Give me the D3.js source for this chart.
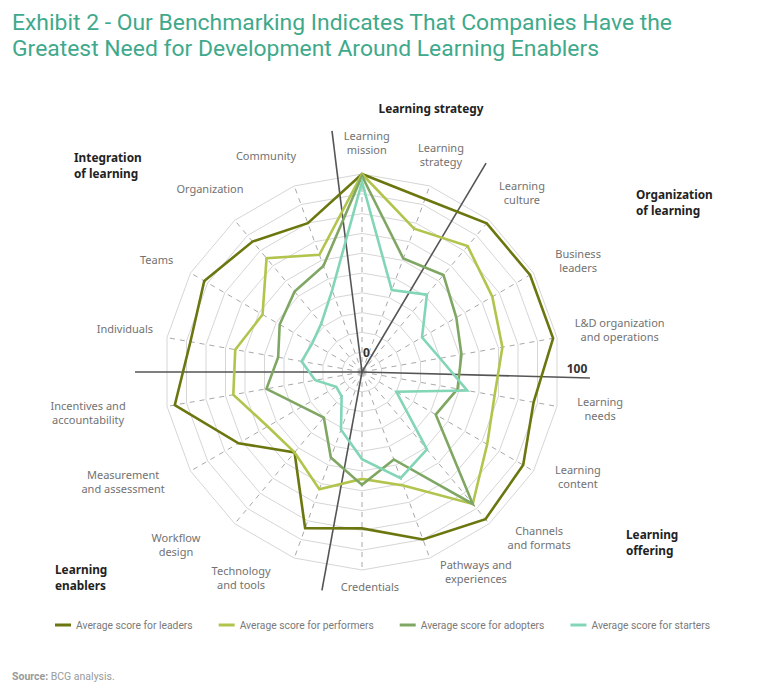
<!DOCTYPE html>
<html>
<head>
<meta charset="utf-8">
<script src="https://cdn.jsdelivr.net/npm/d3@7/dist/d3.min.js"></script>
<style>
  body { margin: 0; background: #fff; }
  svg { display: block; font-family: "Noto Sans", sans-serif; }
</style>
</head>
<body>
<div id="chart"></div>
<script>
// ---- data ----
const axes = ["Learning\nmission", "Learning\nstrategy", "Learning\nculture", "Business\nleaders",
  "L&D organization\nand operations", "Learning\nneeds", "Learning\ncontent", "Channels\nand formats",
  "Pathways and\nexperiences", "Credentials", "Technology\nand tools", "Workflow\ndesign",
  "Measurement\nand assessment", "Incentives and\naccountability", "Individuals", "Teams",
  "Organization", "Community"];
const seriesNames = ["Average score for leaders", "Average score for performers",
  "Average score for adopters", "Average score for starters"];
const leaders    = [100, 93, 98, 98, 98, 88, 94, 97, 90, 79, 84, 53, 72, 96, 88, 92, 86, 80];
const performers = [100, 77, 83, 76, 72, 68, 73, 87, 61, 54, 63, 53, 55, 66, 65, 58, 75, 63];
const adopters   = [99, 61, 64, 55, 51, 49, 43, 87, 47, 57, 46, 30, 35, 49, 43, 48, 53, 57];
const starters   = [96, 44, 51, 35, 40, 54, 20, 51, 57, 44, 31, 16, 15, 24, 31, 29, 32, 44];
const sections = ["Learning strategy", "Organization\nof learning", "Learning\noffering",
  "Learning\nenablers", "Integration\nof learning"];
const gridTicks = [10, 20, 30, 40, 50, 60, 70, 80, 90, 100];
const scaleLabels = ["0", "100"];

// ---- layout ----
const width = 768, height = 700;
const cx = 362, cy = 372, R = 198;
const colors = ["#6b770e", "#b2c44c", "#7fa763", "#82d6b6"];
// label centres, polar: [angle deg, radius px]
const labelPolar = [[1.2, 229], [20, 231], [41.8, 240], [62.8, 243], [80.8, 261], [98.8, 241],
  [115.9, 240], [133.2, 243], [150.3, 230], [177.9, 215], [210.4, 239], [227.1, 254],
  [245.3, 263], [261.5, 277], [280.3, 241], [298.6, 234], [320.3, 238], [336, 236]];
// separator rays: [angle deg, length px]
const separators = [[352.9, 243], [30.7, 243], [91.5, 228], [190.4, 222], [270, 227]];
const sectionPos = [[431, 113, "middle"], [636, 199, "start"], [626, 539, "start"],
  [55, 574, "start"], [74, 162, "start"]];

const svg = d3.select("#chart").append("svg")
  .attr("width", width).attr("height", height);

// title
const title = svg.append("g").attr("fill", "#3fa98b")
  .style("font-family", "Roboto, sans-serif").style("font-size", "22px");
[["Exhibit 2 - Our Benchmarking Indicates That Companies Have the", 30, 660],
 ["Greatest Need for Development Around Learning Enablers", 56, 587]].forEach(([t, y, w]) => {
  title.append("text").attr("x", 12).attr("y", y).text(t)
    .attr("textLength", w).attr("lengthAdjust", "spacingAndGlyphs");
});

const g = svg.append("g").attr("transform", `translate(${cx},${cy})`);
const rScale = d3.scaleLinear().domain([0, 100]).range([0, R]);
const angle = i => i * 2 * Math.PI / axes.length;
const rad = d => d * Math.PI / 180;

// rings
const ring = d3.lineRadial().angle((d, i) => angle(i)).radius(d => rScale(d)).curve(d3.curveLinearClosed);
g.selectAll(".ring").data(gridTicks).join("path")
  .attr("class", "ring")
  .attr("d", t => ring(axes.map(() => t)))
  .attr("fill", "none").attr("stroke", "#d6d6d6").attr("stroke-width", 1);

// spokes
g.selectAll(".spoke").data(axes).join("line")
  .attr("class", "spoke")
  .attr("x1", 0).attr("y1", 0)
  .attr("x2", (d, i) => rScale(100) * Math.sin(angle(i)))
  .attr("y2", (d, i) => -rScale(100) * Math.cos(angle(i)))
  .attr("stroke", "#a8a8a8").attr("stroke-width", 1).attr("stroke-dasharray", "5,5");

// section separators
g.selectAll(".sep").data(separators).join("line")
  .attr("class", "sep")
  .attr("x1", 0).attr("y1", 0)
  .attr("x2", d => d[1] * Math.sin(rad(d[0])))
  .attr("y2", d => -d[1] * Math.cos(rad(d[0])))
  .attr("stroke", "#555").attr("stroke-width", 1.6);

// series
const seriesData = [leaders, performers, adopters, starters];
const line = d3.lineRadial().angle((d, i) => angle(i)).radius(d => rScale(d)).curve(d3.curveLinearClosed);
g.selectAll(".series").data(seriesData).join("path")
  .attr("class", "series")
  .attr("d", line)
  .attr("fill", "none")
  .attr("stroke", (d, i) => colors[i])
  .attr("stroke-width", 2.6)
  .attr("stroke-linejoin", "miter");

// scale labels
g.append("text").attr("x", rScale(0) + 1).attr("y", -15)
  .attr("font-size", 12).attr("font-weight", "bold").attr("fill", "#333").text(scaleLabels[0]);
g.append("text").attr("x", rScale(100) + 17).attr("y", 1).attr("text-anchor", "middle")
  .attr("font-size", 12).attr("font-weight", "bold").attr("fill", "#333").text(scaleLabels[1]);

// axis labels
axes.forEach((name, i) => {
  const [a, r] = labelPolar[i];
  const x = r * Math.sin(rad(a)), y = -r * Math.cos(rad(a));
  const lines = name.split("\n");
  lines.forEach((l, j) => {
    g.append("text").attr("text-anchor", "middle")
      .attr("font-size", 11).attr("fill", "#727272")
      .attr("x", x)
      .attr("y", y + 4 + (j - (lines.length - 1) / 2) * 14)
      .text(l);
  });
});

// section labels
sections.forEach((name, i) => {
  const [x, y, anchor] = sectionPos[i];
  name.split("\n").forEach((l, j) => {
    svg.append("text").attr("text-anchor", anchor)
      .attr("font-size", 11.8).attr("font-weight", "bold").attr("fill", "#222")
      .attr("x", x).attr("y", y + j * 15.5).text(l);
  });
});

// legend
const legend = svg.append("g").attr("transform", "translate(55,625)");
let lx = 0;
seriesNames.forEach((name, i) => {
  legend.append("line").attr("x1", lx).attr("x2", lx + 16).attr("y1", 0).attr("y2", 0)
    .attr("stroke", colors[i]).attr("stroke-width", 3);
  const t = legend.append("text").attr("x", lx + 21).attr("y", 4)
    .style("font-family", "Roboto, sans-serif")
    .attr("font-size", 10.3).attr("fill", "#7a7a7a").text(name);
  lx += 21 + t.node().getComputedTextLength() + 26;
});

// source
const src = svg.append("text").attr("x", 12).attr("y", 680)
  .style("font-family", "Roboto, sans-serif").attr("font-size", 10.5).attr("fill", "#9a9a9a");
src.append("tspan").attr("font-weight", "bold").text("Source:");
src.append("tspan").text(" BCG analysis.");
</script>
</body>
</html>
